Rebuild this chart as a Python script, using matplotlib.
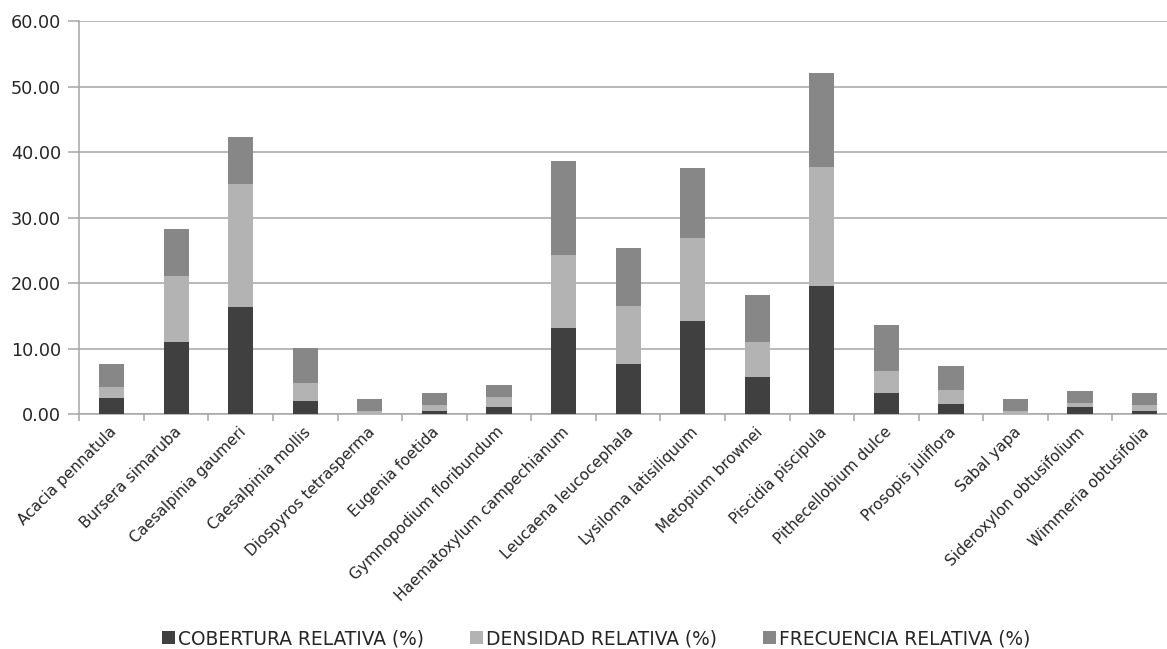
import matplotlib
matplotlib.use("Agg")
import matplotlib.pyplot as plt
import numpy as np

species = ["Acacia pennatula", "Bursera simaruba", "Caesalpinia gaumeri", "Caesalpinia mollis",
           "Diospyros tetrasperma", "Eugenia foetida", "Gymnopodium floribundum",
           "Haematoxylum campechianum", "Leucaena leucocephala", "Lysiloma latisiliquum",
           "Metopium brownei", "Piscidia piscipula", "Pithecellobium dulce", "Prosopis juliflora",
           "Sabal yapa", "Sideroxylon obtusifolium", "Wimmeria obtusifolia"]
cobertura = [2.5, 11.0, 16.3, 2.1, 0.05, 0.5, 1.07, 13.2, 7.6, 14.3, 5.65, 19.5, 3.2, 1.53, 0.05, 1.07, 0.5]
densidad = [1.65, 10.1, 18.9, 2.6, 0.45, 0.9, 1.6, 11.1, 8.9, 12.6, 5.35, 18.3, 3.35, 2.2, 0.45, 0.65, 0.9]
frecuencia = [3.57, 7.14, 7.14, 5.36, 1.79, 1.79, 1.79, 14.29, 8.93, 10.71, 7.14, 14.29, 7.14, 3.57, 1.79, 1.79, 1.79]
series_names = ["COBERTURA RELATIVA (%)", "DENSIDAD RELATIVA (%)", "FRECUENCIA RELATIVA (%)"]
colors = ["#404040", "#b3b3b3", "#878787"]

plt.rcParams['font.family'] = ['DejaVu Sans']

fig = plt.figure(figsize=(11.67, 6.49), dpi=100)
W, H = 1167, 649
renderer = fig.canvas.get_renderer()


def fit_size(text, target_px, base=10.0, **kw):
    t = fig.text(0, 0, text, fontsize=base, **kw)
    wpx = t.get_window_extent(renderer=renderer).width
    t.remove()
    return base * target_px / wpx


xlab_fs = fit_size("Haematoxylum campechianum", 238)
leg_fs = fit_size("COBERTURA RELATIVA (%)", 245)
ytick_fs = fit_size("60.00", 50)

left, right = 79.3, 1176.9
bottom_px, top_px = 414.3, 21.0
ax = fig.add_axes([left / W, 1 - bottom_px / H, (right - left) / W, (bottom_px - top_px) / H])

x = np.arange(len(species))
w = 0.39
c = np.array(cobertura)
d = np.array(densidad)
f = np.array(frecuencia)
ax.bar(x, c, w, color=colors[0], label=series_names[0], zorder=3)
ax.bar(x, d, w, bottom=c, color=colors[1], label=series_names[1], zorder=3)
ax.bar(x, f, w, bottom=c + d, color=colors[2], label=series_names[2], zorder=3)

ax.set_xlim(-0.5, len(species) - 0.5)
ax.set_ylim(0, 60)
ax.set_yticks(np.arange(0, 61, 10))
ax.set_yticklabels([f"{v:.2f}" for v in np.arange(0, 61, 10)], fontsize=ytick_fs, color="#262626")
ax.yaxis.grid(True, color="#a6a6a6", linewidth=1.1, zorder=0)
ax.set_axisbelow(True)
ax.tick_params(axis='y', length=8, color="#a6a6a6", width=1.1, pad=5)

ax.set_xticks(x)
ax.set_xticklabels([])
ax.tick_params(axis='x', length=0)
ax.set_xticks(np.arange(-0.5, len(species), 1), minor=True)
ax.tick_params(axis='x', which='minor', length=5, color="#a6a6a6", width=1.1)

for i, name in enumerate(species):
    ax.annotate(name, xy=(i, 0), xycoords=('data', 'axes fraction'),
                xytext=(2, -11), textcoords='offset points',
                rotation=45, ha='right', va='center', rotation_mode='anchor',
                fontsize=xlab_fs, color="#262626")

for s in ['top', 'right']:
    ax.spines[s].set_visible(False)
for s in ['left', 'bottom']:
    ax.spines[s].set_color("#a6a6a6")
    ax.spines[s].set_linewidth(1.1)

leg_px = leg_fs * 100 / 72
handles, labels = ax.get_legend_handles_labels()
fig.legend(handles, labels, loc='center', bbox_to_anchor=(0.511, 1 - 639 / H), ncol=3,
           frameon=False, fontsize=leg_fs, handlelength=13 / leg_px, handleheight=13 / leg_px,
           handletextpad=3 / leg_px, columnspacing=46 / leg_px, labelcolor="#262626",
           borderaxespad=0, borderpad=0)

fig.savefig("out.png", dpi=100)
